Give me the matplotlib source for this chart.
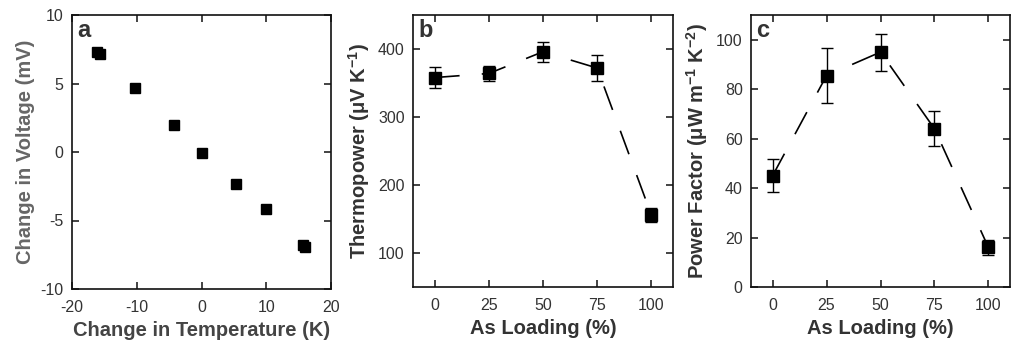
import numpy as np
import matplotlib
matplotlib.use('Agg')
import matplotlib.pyplot as plt

plt.rcParams['font.family'] = ['Liberation Sans', 'DejaVu Sans']
plt.rcParams['mathtext.default'] = 'regular'
plt.rcParams['axes.unicode_minus'] = False
plt.rcParams['lines.scale_dashes'] = False

# panel a
dT = [-16.1, -15.7, -10.3, -4.3, 0.0, 5.4, 9.9, 15.6, 16.0]
dV = [7.3, 7.15, 4.65, 1.95, -0.05, -2.3, -4.15, -6.8, -6.95]

# panels b and c
loading = [0, 25, 50, 75, 100]
thermo = [358, 364, 396, 372, 156]
thermo_err = [16, 11, 15, 19, 10]
pf = [45, 85.5, 95, 64, 16]
pf_err = [6.7, 11, 7.5, 7, 3]

txt = '#333333'
fig = plt.figure(figsize=(10.11, 3.42), dpi=100)
ax_a = fig.add_axes([72/1011, 53/342, 259/1011, 274/342])
ax_b = fig.add_axes([413/1011, 55/342, 260/1011, 272/342])
ax_c = fig.add_axes([751/1011, 55/342, 259/1011, 272/342])


def style(ax):
    for s in ax.spines.values():
        s.set_linewidth(1.2)
        s.set_color('#111111')
    ax.tick_params(direction='in', top=True, right=True, length=5, width=1.1,
                   labelsize=11.5, labelcolor=txt, color='#111111')
    ax.tick_params(axis='x', pad=8)
    ax.tick_params(axis='y', pad=6)


def panel_label(ax, s):
    ax.text(0.02, 0.985, s, transform=ax.transAxes, fontsize=17, fontweight='bold',
            color='#333333', va='top', ha='left')


ax_a.plot(dT, dV, 's', color='black', ms=7.5)
ax_a.set_xlim(-20, 20)
ax_a.set_ylim(-10, 10)
ax_a.set_xticks([-20, -10, 0, 10, 20])
ax_a.set_yticks([-10, -5, 0, 5, 10])
ax_a.set_xlabel('Change in Temperature (K)', fontsize=14.5, fontweight='bold', color='#444444')
ax_a.set_ylabel('Change in Voltage (mV)', fontsize=14.5, fontweight='bold', color='#666666')
panel_label(ax_a, 'a')
style(ax_a)

ax_b.errorbar(loading, thermo, yerr=thermo_err, fmt='s', color='black', ms=8,
              elinewidth=1, capsize=4, capthick=1)
ax_b.plot(loading, thermo, color='black', lw=1.2, ls=(0, (18, 16)))
ax_b.set_xlim(-10, 110)
ax_b.set_ylim(50, 450)
ax_b.set_xticks(loading)
ax_b.set_yticks([100, 200, 300, 400])
ax_b.set_xlabel('As Loading (%)', fontsize=14.5, fontweight='bold', color=txt)
ax_b.set_ylabel('Thermopower (\u03bcV K$^{-1}$)', fontsize=14.5, fontweight='bold', color=txt)
panel_label(ax_b, 'b')
style(ax_b)

ax_c.errorbar(loading, pf, yerr=pf_err, fmt='s', color='black', ms=8,
              elinewidth=1, capsize=4, capthick=1)
ax_c.plot(loading, pf, color='black', lw=1.2, ls=(0, (18, 16)))
ax_c.set_xlim(-10, 110)
ax_c.set_ylim(0, 110)
ax_c.set_xticks(loading)
ax_c.set_yticks([0, 20, 40, 60, 80, 100])
ax_c.set_xlabel('As Loading (%)', fontsize=14.5, fontweight='bold', color=txt)
ax_c.set_ylabel('Power Factor (\u03bcW m$^{-1}$ K$^{-2}$)', fontsize=14.5, fontweight='bold', color=txt)
panel_label(ax_c, 'c')
style(ax_c)

fig.savefig('out.png', dpi=100)
